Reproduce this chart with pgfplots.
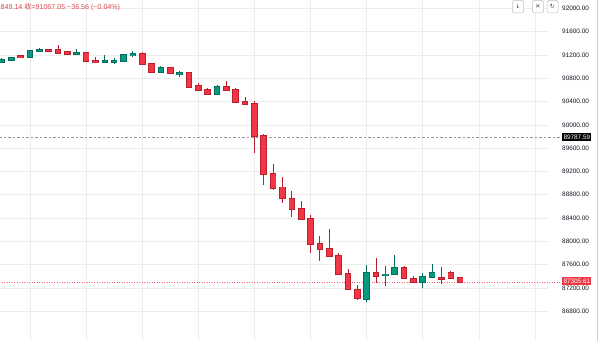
\documentclass[border=0pt]{standalone}
\usepackage{pgfplots}
\pgfplotsset{compat=1.18}
\usepackage{pgfplotstable}
\usepackage{fontspec}
\setmainfont{Liberation Sans}
\newfontfamily\cjk{Noto Sans CJK SC}
\newfontfamily\sym{DejaVu Sans}
\definecolor{rfill}{HTML}{F23645}
\definecolor{rdark}{HTML}{B8202E}
\definecolor{gfill}{HTML}{089981}
\definecolor{gdark}{HTML}{056B5A}
\definecolor{gridc}{HTML}{EDEDED}
\definecolor{txt}{HTML}{131722}
\definecolor{hdr}{HTML}{D9474F}

\pgfplotstableread{
i o h l c
2 91176 91183 91160 91166
5 91286 91308 91269 91275
6 91281 91366 91234 91239
7 91246 91251 91217 91222
9 91234 91240 91085 91092
10 91092 91166 91063 91075
15 91217 91246 91032 91040
16 91045 91068 90886 90903
18 90977 90982 90880 90886
20 90891 90897 90650 90656
21 90663 90724 90598 90604
22 90599 90628 90513 90525
24 90645 90748 90588 90594
25 90599 90638 90388 90393
26 90388 90484 90348 90353
27 90359 90410 89522 89814
28 89814 89843 88968 89152
29 89152 89323 88882 88921
30 88928 89100 88654 88739
31 88727 88865 88424 88556
32 88556 88693 88378 88384
33 88384 88453 87795 87960
34 87955 88097 87668 87874
35 87874 88207 87737 87754
36 87754 87795 87440 87445
37 87435 87520 87178 87182
38 87165 87246 86993 87022
40 87452 87720 87290 87411
43 87538 87582 87360 87366
44 87354 87405 87285 87297
47 87371 87555 87263 87361
48 87452 87497 87360 87366
49 87371 87376 87300 87306
}\redtab

\pgfplotstableread{
i o h l c
0 91080 91148 91071 91114
1 91109 91166 91097 91154
3 91171 91280 91166 91274
4 91263 91320 91257 91291
8 91229 91303 91226 91238
11 91087 91195 91080 91095
12 91087 91148 91045 91097
13 91092 91200 91088 91195
14 91200 91274 91171 91210
17 90903 91011 90894 90972
19 90874 90930 90817 90884
23 90525 90690 90520 90645
39 87010 87594 86964 87452
41 87418 87577 87234 87428
42 87435 87766 87430 87538
45 87297 87452 87205 87383
46 87383 87617 87378 87452
}\greentab

\pgfplotsset{candle/.style={only marks, mark size=0pt, mark options={draw=none, fill=none},
  error bars/.cd, y dir=both, y explicit, error mark=none}}

\begin{document}
\begin{tikzpicture}[x=1pt,y=1pt]
\useasboundingbox (0,0) rectangle (600,341);
\begin{axis}[
  at={(0,0)}, anchor=south west,
  scale only axis, width=548pt, height=341pt,
  xmin=-0.207, xmax=58.39, ymin=86289, ymax=92144,
  clip=false,
  axis line style={draw=none},
  tick style={draw=none},
  major tick length=0pt,
  xtick={3,9,...,57}, xticklabels={},
  ytick={86800,87200,...,92000},
  scaled y ticks=false,
  grid=major, major grid style={gridc, line width=0.6pt},
  yticklabel pos=right,
  yticklabel style={anchor=west, xshift=14pt, inner sep=0pt, font=\fontsize{6.4}{7}\selectfont, text=txt},
  /pgf/number format/.cd, fixed, fixed zerofill, precision=2, 1000 sep={}, assume math mode=true,
]
% reference lines
\addplot[gray!80, line width=0.6pt, dash pattern=on 2.5pt off 2pt] coordinates {(-0.3,89787.59) (59.9,89787.59)};
\addplot[rfill!80, dotted, line width=0.5pt] coordinates {(-0.3,87305.61) (59.9,87305.61)};
% red wicks
\addplot[candle, error bar style={line width=0.9pt, color=rdark}]
  table[x=i, y expr={(\thisrow{h}+\thisrow{l})/2}, y error expr={(\thisrow{h}-\thisrow{l})/2}] {\redtab};
\addplot[candle, error bar style={line width=6.6pt, color=rdark}]
  table[x=i, y expr={(\thisrow{o}+\thisrow{c})/2}, y error expr={max(abs(\thisrow{o}-\thisrow{c})/2,9)+15}] {\redtab};
\addplot[candle, error bar style={line width=4.8pt, color=rfill}]
  table[x=i, y expr={(\thisrow{o}+\thisrow{c})/2}, y error expr={max(abs(\thisrow{o}-\thisrow{c})/2,9)}] {\redtab};
% green
\addplot[candle, error bar style={line width=0.9pt, color=gdark}]
  table[x=i, y expr={(\thisrow{h}+\thisrow{l})/2}, y error expr={(\thisrow{h}-\thisrow{l})/2}] {\greentab};
\addplot[candle, error bar style={line width=6.6pt, color=gdark}]
  table[x=i, y expr={(\thisrow{o}+\thisrow{c})/2}, y error expr={max(abs(\thisrow{o}-\thisrow{c})/2,9)+15}] {\greentab};
\addplot[candle, error bar style={line width=4.8pt, color=gfill}]
  table[x=i, y expr={(\thisrow{o}+\thisrow{c})/2}, y error expr={max(abs(\thisrow{o}-\thisrow{c})/2,9)}] {\greentab};
\end{axis}
% right border
\draw[gridc!70!gray, line width=0.6pt] (597.5,0) -- (597.5,341);
% price tags
\node[anchor=west, fill=black, text=white, inner sep=1.3pt, font=\fontsize{6.4}{7}\selectfont] at (562,341-137) {89787.59};
\node[anchor=west, fill=rfill, text=white, inner sep=1.3pt, font=\fontsize{6.4}{7}\selectfont] at (562,341-281) {87305.61};
% header
\node[anchor=base west, inner sep=0pt, text=hdr, font=\fontsize{7.1}{8}\selectfont] at (0.5,341-10) {849.14 {\cjk 收}=91067.05 −36.56 (−0.04\%)};
% buttons
\foreach \xx/\ic in {518/↓, 538/✕, 552.5/↻}{
  \draw[gray!50, fill=white, rounded corners=1.5pt, line width=0.5pt] (\xx-5.5,341-13) rectangle (\xx+5.5,341-0.5);
  \node[inner sep=0pt, text=txt!80, font=\sym\fontsize{6}{7}\selectfont] at (\xx,341-6.8) {\ic};
}
\end{tikzpicture}
\end{document}
